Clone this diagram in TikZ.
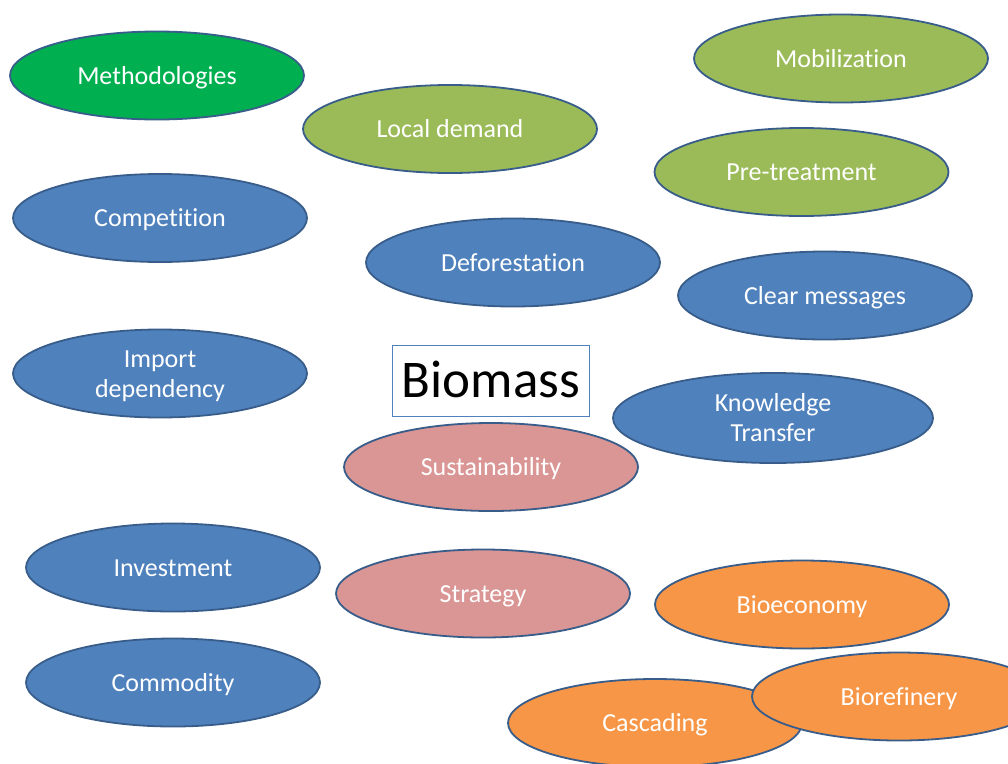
\documentclass[tikz,border=0pt]{standalone}
\usepackage{fontspec}
\setmainfont[Ligatures=NoCommon]{Carlito}
\usetikzlibrary{shapes.geometric}
\definecolor{bblue}{HTML}{4F81BD}
\definecolor{bedge}{HTML}{385D8A}
\definecolor{lgreen}{HTML}{9BBB59}
\definecolor{dgreen}{HTML}{00B050}
\definecolor{pinkc}{HTML}{D99694}
\definecolor{orangec}{HTML}{F79646}
\tikzset{
  oval/.style={ellipse, draw=bedge, line width=1.8pt, inner sep=0pt,
    minimum width=294pt, minimum height=88pt, text=white, align=center,
    font=\fontsize{26}{30}\selectfont, text height=23pt, text depth=6pt},
  twoline/.style={text height=53pt, text depth=6pt},
  bl/.style={oval, fill=bblue},
  lg/.style={oval, fill=lgreen},
  dg/.style={oval, fill=dgreen},
  pk/.style={oval, fill=pinkc},
  og/.style={oval, fill=orangec},
  titlebox/.style={draw=bblue, line width=1.5pt, fill=white, minimum width=197pt,
    minimum height=71pt, inner sep=0pt, font=\fontsize{53}{58}\selectfont,
    text height=42pt, text depth=10pt}
}
\begin{document}
\begin{tikzpicture}[x=1pt,y=-1pt]
\useasboundingbox[fill=white] (0,0) rectangle (1008,763);
\node[dg] (meth) at (157,75.5) {Methodologies};
\node[lg] (local) at (450,129) {Local demand};
\node[lg] (mob) at (841,58.5) {Mobilization};
\node[lg] (pre) at (801.5,172) {Pre-treatment};
\node[bl] (comp) at (160,218) {Competition};
\node[bl] (defo) at (513,262.5) {Deforestation};
\node[bl] (clear) at (825,295.5) {Clear messages};
\node[bl, twoline] (imp) at (160,373.5) {Import\\dependency};
\node[titlebox] (bio) at (491,381) {Biomass};
\node[bl, twoline, minimum width=320pt, minimum height=90pt] (know) at (773,418) {Knowledge\\Transfer};
\node[pk] (sus) at (491,467) {Sustainability};
\node[bl] (inv) at (173,567.5) {Investment};
\node[pk] (strat) at (483,593.5) {Strategy};
\node[og] (bioec) at (802,604.5) {Bioeconomy};
\node[bl] (comm) at (173,682.5) {Commodity};
\node[og] (casc) at (655,723) {Cascading};
\node[og] (bioref) at (899,696.5) {Biorefinery};
\end{tikzpicture}
\end{document}
